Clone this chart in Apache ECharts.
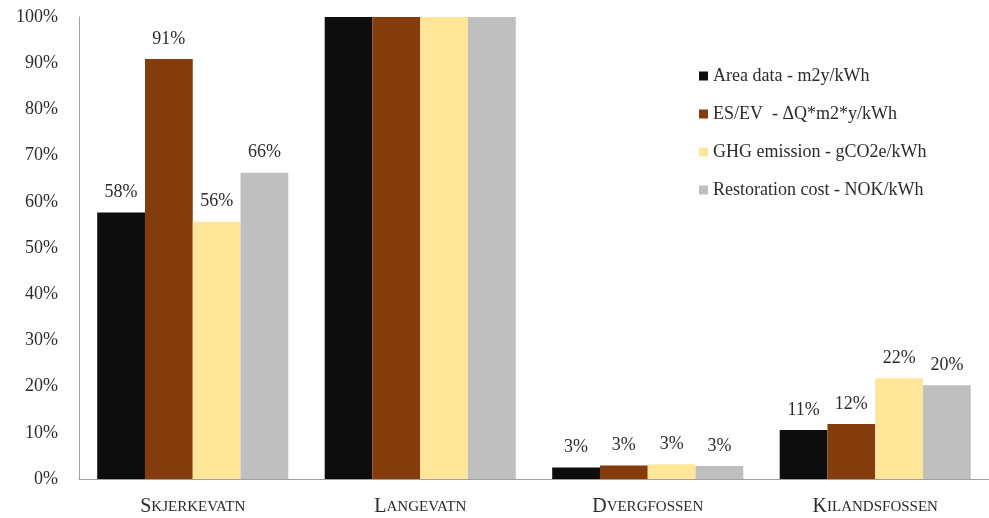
<!DOCTYPE html>
<html>
<head>
<meta charset="utf-8">
<script src="https://cdn.jsdelivr.net/npm/echarts@6/dist/echarts.min.js"></script>
<style>
html, body { margin: 0; padding: 0; background: #fff; }
#main { width: 989px; height: 518px; }
</style>
</head>
<body>
<div id="main"></div>
<script>
var categories = ['Skjerkevatn', 'Langevatn', 'Dvergfossen', 'Kilandsfossen'];
var seriesNames = ['Area data - m2y/kWh', 'ES/EV  - \u0394Q*m2*y/kWh', 'GHG emission - gCO2e/kWh', 'Restoration cost - NOK/kWh'];
var areaData = [57.7, 100, 2.5, 10.6];
var esevData = [90.9, 100, 2.9, 11.9];
var ghgData = [55.7, 100, 3.2, 21.8];
var costData = [66.3, 100, 2.8, 20.3];
// text shown above each bar ('' = none)
var areaLabels = ['58%', '', '3%', '11%'];
var esevLabels = ['91%', '', '3%', '12%'];
var ghgLabels = ['56%', '', '3%', '22%'];
var costLabels = ['66%', '', '3%', '20%'];

var colors = ['#0d0d0d', '#843c0c', '#ffe699', '#bfbfbf'];
var serif = '"Liberation Serif", "DejaVu Serif", serif';

function makeSeries(name, values, labels) {
	return {
		name: name,
		type: 'bar',
		barGap: 0,
		barCategoryGap: '16%',
		data: values,
		label: {
			show: true,
			position: 'top',
			distance: 11,
			fontFamily: serif,
			fontSize: 18,
			color: '#2b2b2b',
			formatter: function(p) { return labels[p.dataIndex]; }
		}
	};
}

var chart = echarts.init(document.getElementById('main'));
chart.setOption({
	animation: false,
	color: colors,
	grid: { left: 79, right: 0, top: 17, bottom: 39 },
	legend: {
		orient: 'vertical',
		left: 694,
		top: 62,
		itemWidth: 9,
		itemHeight: 9,
		itemGap: 20,
		icon: 'rect',
		textStyle: { fontFamily: serif, fontSize: 18, color: '#2b2b2b' },
		data: seriesNames
	},
	xAxis: {
		type: 'category',
		data: categories,
		axisLine: { lineStyle: { color: '#a0a0a0', width: 1 } },
		axisTick: { show: false },
		axisLabel: {
			margin: 18,
			formatter: function(v) {
				return '{a|' + v.charAt(0).toUpperCase() + '}{b|' + v.slice(1).toUpperCase() + '}';
			},
			rich: {
				a: { fontFamily: serif, fontSize: 20, color: '#2b2b2b' },
				b: { fontFamily: serif, fontSize: 15, color: '#2b2b2b' }
			}
		}
	},
	yAxis: {
		type: 'value',
		min: 0,
		max: 100,
		interval: 10,
		splitLine: { show: false },
		axisLine: { show: true, lineStyle: { color: '#a0a0a0', width: 1 } },
		axisTick: { show: false },
		axisLabel: {
			margin: 21,
			fontFamily: serif,
			fontSize: 18,
			color: '#2b2b2b',
			formatter: '{value}%'
		}
	},
	series: [
		makeSeries(seriesNames[0], areaData, areaLabels),
		makeSeries(seriesNames[1], esevData, esevLabels),
		makeSeries(seriesNames[2], ghgData, ghgLabels),
		makeSeries(seriesNames[3], costData, costLabels)
	]
});
window.onresize = chart.resize;
</script>
</body>
</html>
